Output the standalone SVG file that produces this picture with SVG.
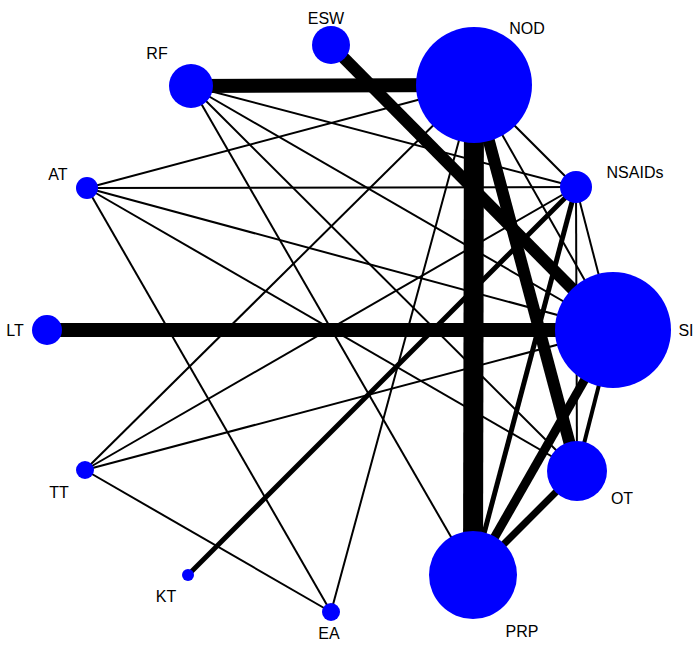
<svg xmlns="http://www.w3.org/2000/svg" width="700" height="653" viewBox="0 0 700 653">
<style>
.n{fill:#0000ff}
.l{font-family:"Liberation Sans",Arial,sans-serif;font-size:16px;fill:#000}
line{stroke:#000;stroke-linecap:butt}
</style>
<rect width="700" height="653" fill="#fff"/>
<g id="connectors">
<line x1="191" y1="86" x2="474" y2="85" stroke-width="14"/>
<line x1="331" y1="45" x2="613" y2="330" stroke-width="12"/>
<line x1="474" y1="85" x2="577" y2="471" stroke-width="12"/>
<line x1="474" y1="85" x2="473" y2="575" stroke-width="20"/>
<line x1="47" y1="330" x2="613" y2="330" stroke-width="14"/>
<line x1="473" y1="575" x2="613" y2="330" stroke-width="9"/>
<line x1="473" y1="575" x2="577" y2="471" stroke-width="7"/>
<line x1="188" y1="575" x2="576" y2="187" stroke-width="5"/>
<line x1="473" y1="575" x2="576" y2="187" stroke-width="5"/>
<line x1="613" y1="330" x2="577" y2="471" stroke-width="4"/>
<g stroke-width="2">
<line x1="191" y1="86" x2="576" y2="187"/>
<line x1="191" y1="86" x2="613" y2="330"/>
<line x1="191" y1="86" x2="577" y2="471"/>
<line x1="191" y1="86" x2="473" y2="575"/>
<line x1="87" y1="188" x2="474" y2="85"/>
<line x1="87" y1="188" x2="576" y2="187"/>
<line x1="87" y1="188" x2="613" y2="330"/>
<line x1="87" y1="188" x2="577" y2="471"/>
<line x1="87" y1="188" x2="331" y2="612"/>
<line x1="85" y1="470" x2="576" y2="187"/>
<line x1="85" y1="470" x2="613" y2="330"/>
<line x1="85" y1="470" x2="331" y2="612"/>
<line x1="85" y1="470" x2="474" y2="85"/>
<line x1="474" y1="85" x2="576" y2="187"/>
<line x1="474" y1="85" x2="613" y2="330"/>
<line x1="474" y1="85" x2="331" y2="612"/>
<line x1="576" y1="187" x2="613" y2="330"/>
<line x1="576" y1="187" x2="577" y2="471"/>
</g>
</g>
<g id="ESW"><circle class="n" cx="331" cy="45" r="19"/><text class="l" x="326" y="24" text-anchor="middle">ESW</text></g>
<g id="NOD"><circle class="n" cx="474" cy="85" r="58"/><text class="l" x="527" y="34" text-anchor="middle">NOD</text></g>
<g id="RF"><circle class="n" cx="191" cy="86" r="22"/><text class="l" x="157" y="59" text-anchor="middle">RF</text></g>
<g id="AT"><circle class="n" cx="87" cy="188" r="11"/><text class="l" x="58" y="180" text-anchor="middle">AT</text></g>
<g id="NSAIDs"><circle class="n" cx="576" cy="187" r="16"/><text class="l" x="635" y="178" text-anchor="middle">NSAIDs</text></g>
<g id="LT"><circle class="n" cx="47" cy="330" r="15"/><text class="l" x="15" y="336" text-anchor="middle">LT</text></g>
<g id="SI"><circle class="n" cx="613" cy="330" r="58"/><text class="l" x="686" y="336" text-anchor="middle">SI</text></g>
<g id="TT"><circle class="n" cx="85" cy="470" r="9"/><text class="l" x="59" y="498" text-anchor="middle">TT</text></g>
<g id="OT"><circle class="n" cx="577" cy="471" r="30"/><text class="l" x="622" y="504" text-anchor="middle">OT</text></g>
<g id="KT"><circle class="n" cx="188" cy="575" r="6"/><text class="l" x="166" y="602" text-anchor="middle">KT</text></g>
<g id="EA"><circle class="n" cx="331" cy="612" r="9"/><text class="l" x="329" y="639" text-anchor="middle">EA</text></g>
<g id="PRP"><circle class="n" cx="473" cy="575" r="44"/><text class="l" x="522" y="637" text-anchor="middle">PRP</text></g>
</svg>
